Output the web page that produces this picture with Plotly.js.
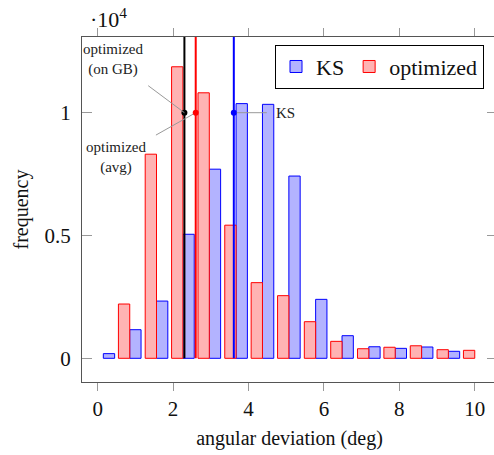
<!DOCTYPE html>
<html>
<head>
<meta charset="utf-8">
<script src="https://cdn.plot.ly/plotly-3.0.1.min.js"></script>
<style>
  html, body { margin: 0; padding: 0; overflow: hidden; background: #fff; }
  #chart { width: 500px; height: 455px; }
</style>
</head>
<body>
<div id="chart"></div>
<script>
// Bin centres (angular deviation, deg)
const binCenters = [0.15, 0.85, 1.56, 2.26, 2.96, 3.67, 4.37, 5.07, 5.78, 6.48, 7.19, 7.89, 8.59, 9.30, 10.00];
// Frequencies per bin
const ksValues        = [190, 1165, 2330, 5050, 7700, 10370, 10340, 7420, 2400, 920, 470, 405, 460, 285, 0];
const optimizedValues = [0, 2210, 8310, 11870, 10810, 5420, 3080, 2550, 1490, 690, 390, 450, 510, 350, 325];
// Marker lines (mean deviations)
const lineNames  = ['optimized (on GB)', 'optimized (avg)', 'KS'];
const lineX      = [2.30, 2.60, 3.61];
const lineColors = ['black', 'red', 'blue'];
const markY = 10000;
// Axis ticks
const xTicks = [0, 2, 4, 6, 8, 10];
const yTicks = [0, 5000, 10000];
const yTickText = ['0', '0.5', '1'];

const xRange = [-0.416, 10.59];
const yRange = [-965, 13082];

const serif = 'Liberation Serif';

// empty bins are not drawn
const nonEmpty = vals => vals.map(v => (v === 0 ? null : v));

const traces = [
  {
    type: 'bar', name: 'KS', x: binCenters, y: nonEmpty(ksValues),
    width: 0.3, offset: 0,
    marker: { color: 'rgb(179,179,255)', line: { color: 'blue', width: 1 } },
    hoverinfo: 'x+y'
  },
  {
    type: 'bar', name: 'optimized', x: binCenters, y: nonEmpty(optimizedValues),
    width: 0.3, offset: -0.3,
    marker: { color: 'rgb(255,179,179)', line: { color: 'red', width: 1 } },
    hoverinfo: 'x+y'
  }
];
lineX.forEach((v, i) => {
  traces.push({
    type: 'scatter', mode: 'lines', name: lineNames[i], x: [v, v], y: [0, yRange[1]],
    line: { color: lineColors[i], width: 2 }, showlegend: false, hoverinfo: 'skip'
  });
});
traces.push({
  type: 'scatter', mode: 'markers', x: lineX, y: lineX.map(() => markY),
  marker: { color: lineColors, size: 6 }, showlegend: false, hoverinfo: 'skip'
});

const annFont = { family: serif, size: 15, color: '#222' };
const annotations = [
  {
    x: lineX[0], y: markY, xref: 'x', yref: 'y',
    text: 'optimized<br>(on GB)', showarrow: true, arrowhead: 0, arrowwidth: 1,
    arrowcolor: '#999', ax: -71, ay: -53, startstandoff: 10, font: annFont
  },
  {
    x: lineX[1], y: markY, xref: 'x', yref: 'y',
    text: 'optimized<br>(avg)', showarrow: true, arrowhead: 0, arrowwidth: 1,
    arrowcolor: '#999', ax: -80, ay: 45, startstandoff: 10, standoff: 3, font: annFont
  },
  {
    x: lineX[2], y: markY, xref: 'x', yref: 'y',
    text: 'KS', showarrow: true, arrowhead: 0, arrowwidth: 1,
    arrowcolor: '#999', ax: 52, ay: 0, startstandoff: 8, standoff: 3, font: annFont
  },
  {
    x: 0.065, y: 1.055, xref: 'paper', yref: 'paper', showarrow: false,
    text: '\u00b710<sup>4</sup>', font: { family: serif, size: 22, color: '#111' },
    xanchor: 'center', yanchor: 'middle'
  }
];

const layout = {
  width: 500, height: 455,
  margin: { l: 82, r: 3, t: 37, b: 73 },
  paper_bgcolor: 'white', plot_bgcolor: 'white',
  showlegend: true,
  legend: {
    orientation: 'h', x: 0.9687, xanchor: 'right', y: 0.9777, yanchor: 'top',
    bordercolor: 'black', borderwidth: 1, bgcolor: 'white',
    font: { family: serif, size: 22, color: '#111', weight: 'normal' },
    itemwidth: 30, traceorder: 'normal'
  },
  font: { family: serif, color: '#111' },
  xaxis: {
    range: xRange, tickvals: xTicks, ticktext: xTicks.map(String),
    ticks: 'outside', ticklen: 8, tickcolor: '#999', tickwidth: 1,
    showline: true, linecolor: '#555', linewidth: 1, mirror: 'ticks',
    showgrid: false, zeroline: false,
    tickfont: { family: serif, size: 21, color: '#111' },
    title: { text: 'angular deviation (deg)', font: { family: serif, size: 20, color: '#111' }, standoff: 10 }
  },
  yaxis: {
    range: yRange, tickvals: yTicks, ticktext: yTickText,
    ticks: 'inside', ticklen: 10, tickcolor: '#999', tickwidth: 1,
    showline: true, linecolor: '#555', linewidth: 1, mirror: 'ticks',
    showgrid: false, zeroline: false,
    tickfont: { family: serif, size: 21, color: '#111' },
    ticklabelstandoff: 6,
    title: { text: 'frequency', font: { family: serif, size: 20, color: '#111' }, standoff: 10 }
  },
  annotations: annotations
};

Plotly.newPlot('chart', traces, layout, { displayModeBar: false, staticPlot: true });
</script>
</body>
</html>
